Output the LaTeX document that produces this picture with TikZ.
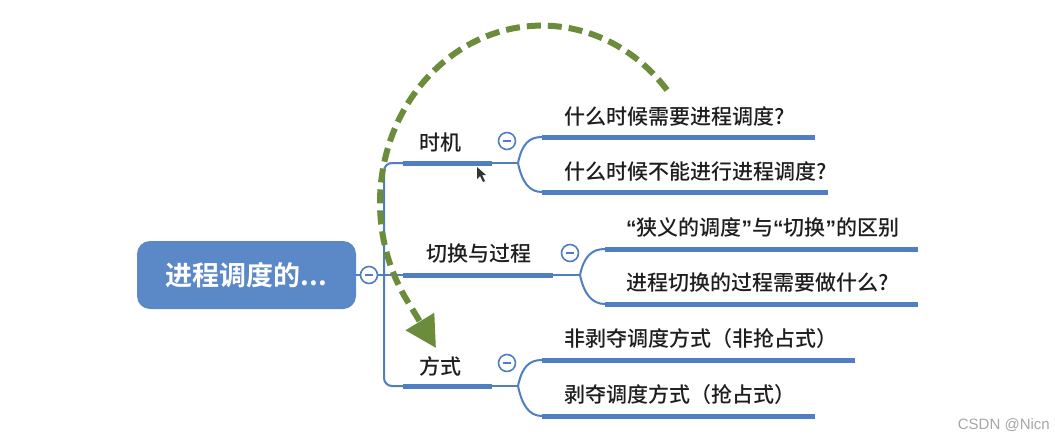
\documentclass[tikz,border=0pt]{standalone}
\usepackage{fontspec}
\newfontfamily\cjk{Noto Sans CJK SC Medium}
\newfontfamily\cjkb{Noto Sans CJK SC Bold}
\newfontfamily\lat{Liberation Sans}
\usetikzlibrary{arrows.meta}
\definecolor{mblue}{HTML}{4F7FC2}
\definecolor{rootblue}{HTML}{5B88C6}
\definecolor{dgreen}{HTML}{6B8C3B}
\definecolor{txt}{HTML}{1E1E1E}
\tikzset{
  conn/.style={mblue, line width=2pt},
  bar/.style={mblue, line width=5pt},
  lbl/.style={anchor=west, inner sep=0pt, font=\cjk\fontsize{21}{24}\selectfont, text=txt},
  toggle/.style={circle, draw=mblue, line width=1.6pt, fill=white, minimum size=17pt, inner sep=0pt,
    path picture={\draw[mblue,line width=1.6pt] ([xshift=-4pt]path picture bounding box.center) -- ([xshift=4pt]path picture bounding box.center);}},
  rootbox/.style={rounded corners=13pt, fill=rootblue, minimum width=219pt, minimum height=68pt,
    text=white, font=\cjkb\fontsize{27}{30}\selectfont, inner sep=0pt},
  jump/.style={dgreen, line width=6pt, dash pattern=on 14pt off 7pt, -{Triangle[length=31pt,width=32pt]}},
}
\begin{document}
\begin{tikzpicture}[x=1pt,y=-1pt]
\useasboundingbox (0,0) rectangle (1055,442);
\fill[white] (0,0) rectangle (1055,442);

% root
\node[rootbox] (root) at (246.5,275) {进程调度的...};
\node[toggle] (t0) at (369,275) {};

% coordinates
\coordinate (s1) at (384,163);
\coordinate (s3) at (384,386);
\coordinate (b1s) at (403,163); \coordinate (b1e) at (492,163); \coordinate (b1j) at (518,163);
\coordinate (c11s) at (542,137); \coordinate (c11e) at (815,137);
\coordinate (c12s) at (542,192); \coordinate (c12e) at (828,192);
\coordinate (b2s) at (403,275); \coordinate (b2e) at (553,275); \coordinate (b2j) at (580,275);
\coordinate (c21s) at (605,249); \coordinate (c21e) at (918,249);
\coordinate (c22s) at (605,304); \coordinate (c22e) at (918,304);
\coordinate (b3s) at (403,386); \coordinate (b3e) at (492,386); \coordinate (b3j) at (518,386);
\coordinate (c31s) at (542,360); \coordinate (c31e) at (855,360);
\coordinate (c32s) at (542,416); \coordinate (c32e) at (815,416);

% spine
\draw[conn] (root.east) -- (t0.west);
\draw[conn] (t0.east) -- (t0.east -| s1);
\draw[conn, rounded corners=8pt] (b1s) -- (s1) -- (s3) -- (b3s);
\draw[conn] (b2s -| s1) -- (b2s);

% branch 1
\draw[bar] (b1s) -- (b1e);
\draw[conn] (b1e) -- (b1j);
\draw[conn] (b1j) .. controls +(4,-19) and +(-13,0) .. (c11s);
\draw[conn] (b1j) .. controls +(4,19) and +(-13,0) .. (c12s);
\draw[bar] (c11s) -- (c11e);
\draw[bar] (c12s) -- (c12e);
\node[lbl] (n1) at (419,143) {时机};
\node[toggle] (t1) at (507,141) {};
\node[lbl] (n11) at (564,116) {什么时候需要进程调度?};
\node[lbl] (n12) at (564,171) {什么时候不能进行进程调度?};

% branch 2
\draw[bar] (b2s) -- (b2e);
\draw[conn] (b2e) -- (b2j);
\draw[conn] (b2j) .. controls +(4,-19) and +(-13,0) .. (c21s);
\draw[conn] (b2j) .. controls +(4,19) and +(-13,0) .. (c22s);
\draw[bar] (c21s) -- (c21e);
\draw[bar] (c22s) -- (c22e);
\node[lbl] (n2) at (426,254) {切换与过程};
\node[toggle] (t2) at (570,253) {};
\node[lbl] (n21) at (626,227) {{\lat\bfseries “}狭义的调度{\lat\bfseries ”}与{\lat\bfseries “}切换{\lat\bfseries ”}的区别};
\node[lbl] (n22) at (626,283) {进程切换的过程需要做什么?};

% branch 3
\draw[bar] (b3s) -- (b3e);
\draw[conn] (b3e) -- (b3j);
\draw[conn] (b3j) .. controls +(4,-19) and +(-13,0) .. (c31s);
\draw[conn] (b3j) .. controls +(4,19) and +(-13,0) .. (c32s);
\draw[bar] (c31s) -- (c31e);
\draw[bar] (c32s) -- (c32e);
\node[lbl] (n3) at (419,366) {方式};
\node[toggle] (t3) at (507,363) {};
\node[lbl] (n31) at (564,339) {非剥夺调度方式（非抢占式）};
\node[lbl] (n32) at (564,395) {剥夺调度方式（抢占式）};

% green jump arrow
\coordinate (gstart) at (667,90);
\draw[jump] (gstart) arc[start angle=-39.5, end angle=-213, x radius=162, y radius=177] -- (436,348);

% mouse cursor
\fill[black!80] (477,167) -- (477,179) -- (480,176) -- (483,182) -- (485,181) -- (482,175) -- (486,175) -- cycle;

% watermark
\node[font=\lat\fontsize{15}{18}\selectfont, text=black!35, anchor=east, inner sep=0pt] (wm) at (1050,425) {CSDN @Nicn};
\end{tikzpicture}
\end{document}
